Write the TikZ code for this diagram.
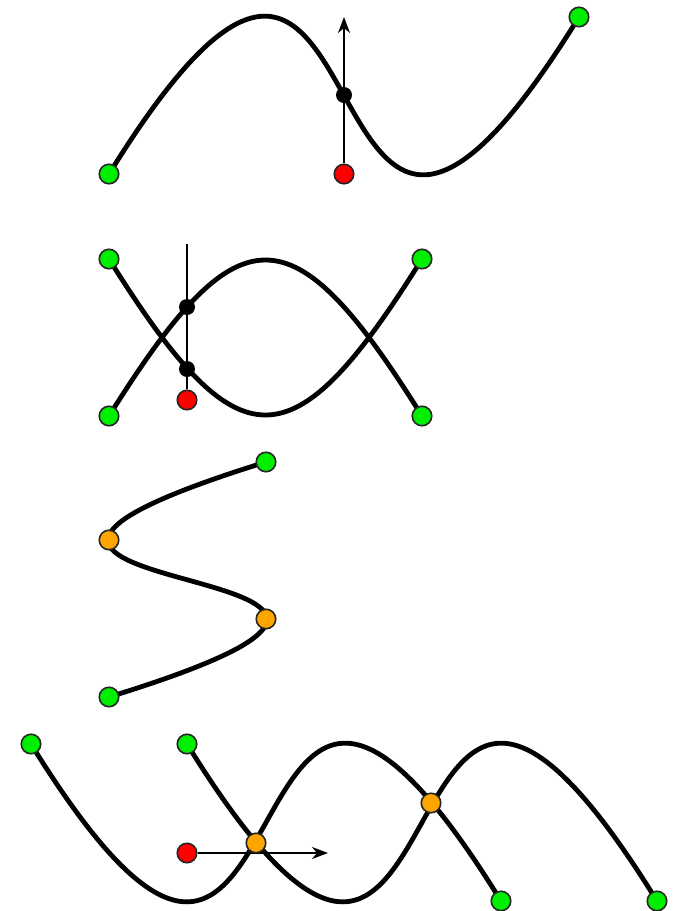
\documentclass[tikz,border=0pt]{standalone}
\usepackage{tikz}
\usetikzlibrary{arrows.meta,backgrounds}
\definecolor{ptg}{HTML}{00EE00}
\definecolor{ptr}{HTML}{FF0000}
\definecolor{pto}{HTML}{FFA500}
\tikzset{
  >={Stealth[length=16pt,width=12pt,inset=5pt]},
  dot/.style={circle,draw=black!85,line width=1.6pt,inner sep=0pt,minimum size=19.5pt},
  gdot/.style={dot,fill=ptg},
  rdot/.style={dot,fill=ptr},
  odot/.style={dot,fill=pto},
  hdot/.style={circle,fill=black,inner sep=0pt,minimum size=16pt},
  crv/.style={draw=black,line width=4.8pt},
  ray/.style={draw=black,line width=2pt},
  rarr/.style={ray,->},
}
\begin{document}
\begin{tikzpicture}[x=1pt,y=-1pt]
\useasboundingbox (0,0) rectangle (674,911);
% one crossing
\node[gdot] (a0) at (109,174) {};
\node[gdot] (a1) at (579,17) {};
\node[rdot] (ar) at (344,174) {};
\node[hdot] (ah) at (344,95) {};
\coordinate (at) at (344,17);
% two crossings
\node[gdot] (b0) at (109,416) {};
\node[gdot] (b1) at (422,416) {};
\node[gdot] (b2) at (109,259) {};
\node[gdot] (b3) at (422,259) {};
\node[rdot] (br) at (187,400) {};
\node[hdot] (bh0) at (187,307) {};
\node[hdot] (bh1) at (187,369) {};
\coordinate (bt) at (187,244);
% vertical tangents
\node[gdot] (c0) at (109,697) {};
\node[gdot] (c1) at (266,462) {};
\node[odot] (ct0) at (266,619) {};
\node[odot] (ct1) at (109,540) {};
% self crossings
\node[gdot] (d0) at (31,744) {};
\node[gdot] (d1) at (501,901) {};
\node[gdot] (d2) at (187,744) {};
\node[gdot] (d3) at (657,901) {};
\node[rdot] (dr) at (187,853) {};
\node[odot] (dx0) at (256,843) {};
\node[odot] (dx1) at (431,803) {};
\coordinate (dt) at (328,853);
\begin{scope}[on background layer]
\draw[crv] (a0.center) .. controls (402,-300) and (286,491) .. (a1.center);
\draw[rarr] (ar) -- (at);
\draw[crv] (b0.center) .. controls (239,208) and (292,208) .. (b1.center);
\draw[crv] (b2.center) .. controls (239,467) and (292,467) .. (b3.center);
\draw[ray] (br) -- (bt);
\draw[crv] (c0.center) .. controls (583,551) and (-208,609) .. (c1.center);
\draw[crv] (d0.center) .. controls (324,1218) and (208,427) .. (d1.center);
\draw[crv] (d2.center) .. controls (480,1218) and (364,427) .. (d3.center);
\draw[rarr] (dr) -- (dt);
\end{scope}
\end{tikzpicture}
\end{document}
